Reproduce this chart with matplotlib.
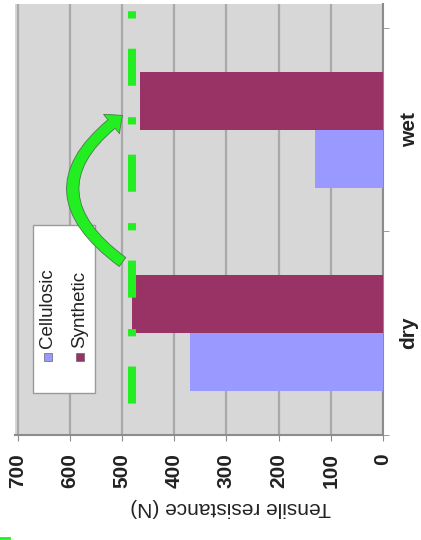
import matplotlib
matplotlib.use("Agg")
import matplotlib.pyplot as plt
from matplotlib.patches import FancyArrowPatch, Rectangle
from matplotlib.lines import Line2D
import numpy as np

categories = ["dry", "wet"]
series_names = ["Cellulosic", "Synthetic"]
cellulosic = [370, 130]
synthetic = [480, 465]
value_ticks = [0, 100, 200, 300, 400, 500, 600, 700]
target_level = 480
value_label = "Tensile resistance (N)"

CELL_COLOR = "#9999ff"
SYN_COLOR = "#993366"
LIME = "#22ee22"
GRID = "#a9a9a9"
AXIS = "#8c8c8c"


def main():
    plt.rcParams["font.family"] = ["Liberation Sans", "DejaVu Sans"]
    fig = plt.figure(figsize=(4.21, 5.40), dpi=100)
    ax = fig.add_axes([0.0356, 0.1944, 0.874, 0.798])
    ax.set_facecolor("#d7d7d7")

    # chart is laid on its side: values run right to left, categories bottom to top
    pos = np.arange(len(categories))
    h = 0.285
    ax.barh(pos - h / 2, cellulosic, height=h, color=CELL_COLOR, zorder=3)
    ax.barh(pos + h / 2, synthetic, height=h, color=SYN_COLOR, zorder=3)
    ax.set_xlim(705, 0)
    ax.set_ylim(-0.5, 1.617)

    ax.set_axisbelow(True)
    ax.grid(axis="x", color=GRID, linewidth=1.6)
    ax.set_xticks(value_ticks)
    ax.tick_params(axis="x", direction="out", length=4, color=AXIS,
                   pad=9, labelsize=15, labelrotation=90)
    for label in ax.get_xticklabels():
        label.set_fontweight("bold")
        label.set_color("#222222")

    ax.yaxis.tick_right()
    ax.set_yticks(pos)
    ax.set_yticklabels(categories, rotation=90, va="center",
                       fontsize=15, fontweight="bold", color="#222222")
    ax.set_yticks([-0.5, 0.5, 1.5], minor=True)
    ax.tick_params(axis="y", which="major", length=0, pad=12)
    ax.tick_params(axis="y", which="minor", length=4, color=AXIS,
                   direction="out")

    for side in ["top", "left"]:
        ax.spines[side].set_visible(False)
    for side in ["right", "bottom"]:
        ax.spines[side].set_color(AXIS)
        ax.spines[side].set_linewidth(1.5)

    ax.set_xlabel(value_label, rotation=180, fontsize=15, color="#222222")
    ax.xaxis.set_label_coords(0.587, -0.169)
    ax.xaxis.label.set_va("center")

    # target level as a thick dash-dot line
    ax.axvline(target_level, color=LIME, linewidth=5.8, zorder=4,
               linestyle=(9.25, (4.6, 3.75, 0.9, 3.9)))

    # curved arrow from the dry level to the wet level
    arrow = FancyArrowPatch((499, 0.35), (499, 1.07),
                            connectionstyle="arc3,rad=-0.68",
                            arrowstyle="simple,head_length=10,head_width=18,tail_width=8",
                            mutation_scale=1, shrinkA=0, shrinkB=0,
                            fc=LIME, ec="#4a7a4a", lw=0.6, zorder=6)
    ax.add_patch(arrow)

    # legend drawn by hand so its text can run sideways
    ax.add_patch(Rectangle((0.0489, 0.0974), 0.1685, 0.39, transform=ax.transAxes,
                           fc="white", ec="#9a9a9a", lw=1, zorder=5))
    for name, color, x in zip(series_names, [CELL_COLOR, SYN_COLOR], [0.0897, 0.1766]):
        ax.plot([x], [0.181], marker="s", ms=6, mfc=color, mec="#666666",
                mew=0.5, transform=ax.transAxes, clip_on=False, zorder=6)
        ax.text(x, 0.202, name, rotation=90, ha="center", va="bottom",
                fontsize=13.5, color="#222222", transform=ax.transAxes, zorder=6)

    fig.add_artist(Line2D([0, 0.021], [0.004, 0.004], color=LIME, lw=2))

    fig.savefig("out.png", dpi=100)


if __name__ == "__main__":
    main()
